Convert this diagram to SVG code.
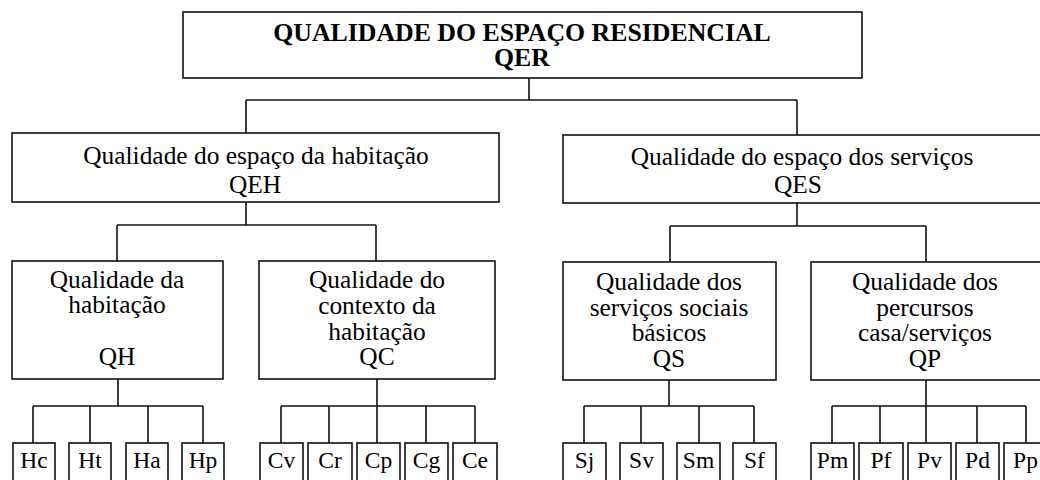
<svg xmlns="http://www.w3.org/2000/svg" width="1040" height="480" viewBox="0 0 1040 480">
<style>
.box{fill:#fff;stroke:#111;stroke-width:1.6}
.ln{fill:none;stroke:#111;stroke-width:1.6}
.tx text{fill:#000;text-anchor:middle}
.t{font-size:25.4px}
.b{font-size:25.8px;font-weight:bold}
.l{font-size:23.5px}
</style>
<rect width="1040" height="480" fill="#fff"/>
<g id="connectors" class="ln">
<path d="M529,78V100M246,100H797M246,100V133M797,100V135"/>
<path d="M246,202V225M117,225H376M117,225V261M376,225V261"/>
<path d="M797,203V226M670,226H926M670,226V262M926,226V262"/>
<path d="M118,379V406M33,406H203M33,406V443M90,406V443M148,406V443M203,406V443"/>
<path d="M377,379V406M281,406H475M281,406V443M329,406V443M377,406V443M426,406V443M475,406V443"/>
<path d="M669,380V406M584,406H754M584,406V443M641,406V443M699,406V443M754,406V443"/>
<path d="M926,380V406M832,406H1026M832,406V443M880,406V443M926,406V443M977,406V443M1026,406V443"/>
</g>
<g class="tx" font-family="'Liberation Serif', Tinos, 'Times New Roman', 'DejaVu Serif', serif">
<g id="QER"><rect class="box" x="183" y="12" width="679" height="66"/><text class="b" x="522" y="41">QUALIDADE DO ESPAÇO RESIDENCIAL</text><text class="b" x="522" y="66">QER</text></g>
<g id="QEH"><rect class="box" x="12" y="133" width="487" height="69"/><text class="t" x="256" y="164">Qualidade do espaço da habitação</text><text class="t" x="255" y="193">QEH</text></g>
<g id="QES"><rect class="box" x="563" y="135" width="482" height="68"/><text class="t" x="802" y="165">Qualidade do espaço dos serviços</text><text class="t" x="798" y="193">QES</text></g>
<g id="QH"><rect class="box" x="12" y="261" width="211" height="118"/><text class="t" x="117" y="288">Qualidade da</text><text class="t" x="117" y="313">habitação</text><text class="t" x="117" y="365">QH</text></g>
<g id="QC"><rect class="box" x="259" y="261" width="236" height="118"/><text class="t" x="377" y="288">Qualidade do</text><text class="t" x="377" y="314">contexto da</text><text class="t" x="377" y="340">habitação</text><text class="t" x="377" y="365">QC</text></g>
<g id="QS"><rect class="box" x="563" y="262" width="213" height="118"/><text class="t" x="669" y="290">Qualidade dos</text><text class="t" x="669" y="316">serviços sociais</text><text class="t" x="669" y="341">básicos</text><text class="t" x="669" y="367">QS</text></g>
<g id="QP"><rect class="box" x="811" y="262" width="234" height="118"/><text class="t" x="925" y="290">Qualidade dos</text><text class="t" x="925" y="316">percursos</text><text class="t" x="925" y="341">casa/serviços</text><text class="t" x="925" y="367">QP</text></g>
<g id="Hc"><rect class="box" x="13" y="443" width="42" height="50"/><text class="l" x="34" y="468">Hc</text></g>
<g id="Ht"><rect class="box" x="69" y="443" width="42" height="50"/><text class="l" x="90" y="468">Ht</text></g>
<g id="Ha"><rect class="box" x="126" y="443" width="42" height="50"/><text class="l" x="147" y="468">Ha</text></g>
<g id="Hp"><rect class="box" x="182" y="443" width="42" height="50"/><text class="l" x="203" y="468">Hp</text></g>
<g id="Cv"><rect class="box" x="260" y="443" width="43" height="50"/><text class="l" x="281.5" y="468">Cv</text></g>
<g id="Cr"><rect class="box" x="308" y="443" width="44" height="50"/><text class="l" x="330" y="468">Cr</text></g>
<g id="Cp"><rect class="box" x="357" y="443" width="43" height="50"/><text class="l" x="378.5" y="468">Cp</text></g>
<g id="Cg"><rect class="box" x="405" y="443" width="43" height="50"/><text class="l" x="426.5" y="468">Cg</text></g>
<g id="Ce"><rect class="box" x="453" y="443" width="44" height="50"/><text class="l" x="475" y="468">Ce</text></g>
<g id="Sj"><rect class="box" x="563" y="443" width="43" height="50"/><text class="l" x="584.5" y="468">Sj</text></g>
<g id="Sv"><rect class="box" x="620" y="443" width="43" height="50"/><text class="l" x="641.5" y="468">Sv</text></g>
<g id="Sm"><rect class="box" x="677" y="443" width="43" height="50"/><text class="l" x="698.5" y="468">Sm</text></g>
<g id="Sf"><rect class="box" x="733" y="443" width="43" height="50"/><text class="l" x="754.5" y="468">Sf</text></g>
<g id="Pm"><rect class="box" x="811" y="443" width="43" height="50"/><text class="l" x="832.5" y="468">Pm</text></g>
<g id="Pf"><rect class="box" x="859" y="443" width="44" height="50"/><text class="l" x="881" y="468">Pf</text></g>
<g id="Pv"><rect class="box" x="908" y="443" width="43" height="50"/><text class="l" x="929.5" y="468">Pv</text></g>
<g id="Pd"><rect class="box" x="956" y="443" width="43" height="50"/><text class="l" x="977.5" y="468">Pd</text></g>
<g id="Pp"><rect class="box" x="1004" y="443" width="43" height="50"/><text class="l" x="1025.5" y="468">Pp</text></g>
</g>
</svg>
